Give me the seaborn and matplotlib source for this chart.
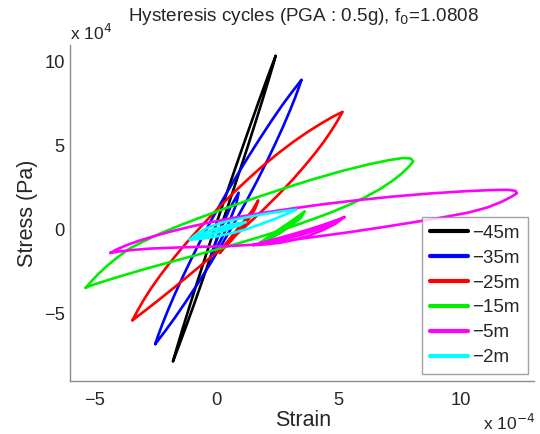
import matplotlib
matplotlib.use("Agg")
import matplotlib.pyplot as plt
import pandas as pd
import seaborn as sns

# Strain in units of 1e-4, stress in units of 1e4 Pa.
# Each depth: main hysteresis cycle plus smaller inner cycles.
depths = ["\u221245m", "\u221235m", "\u221225m", "\u221215m", "\u22125m", "\u22122m"]
colors = ["#000000", "#0000ff", "#ff0000", "#00ee00", "#ff00ff", "#00ffff"]

d45_strain = [-1.79, -1.62, -1.40, -1.12, -0.80, -0.45, -0.08, 0.30, 0.68, 1.05, 1.40, 1.72, 2.00, 2.24, 2.42,
              2.30, 2.12, 1.90, 1.62, 1.30, 0.95, 0.57, 0.18, -0.20, -0.57, -0.92, -1.24, -1.52, -1.72, -1.79]
d45_stress = [-7.84, -6.99, -5.92, -4.61, -3.14, -1.56, 0.07, 1.70, 3.31, 4.86, 6.31, 7.62, 8.74, 9.68, 10.36,
              9.75, 8.87, 7.83, 6.53, 5.07, 3.52, 1.87, 0.20, -1.42, -2.97, -4.42, -5.71, -6.81, -7.58, -7.84]

d35_strain = [-2.52, -2.40, -2.22, -2.00, -1.72, -1.40, -1.05, -0.65, -0.22, 0.25, 0.75, 1.25, 1.75, 2.25, 2.72, 3.12, 3.48,
              3.38, 3.22, 3.00, 2.72, 2.40, 2.04, 1.63, 1.18, 0.70, 0.20, -0.30, -0.80, -1.28, -1.72, -2.10, -2.35, -2.52]
d35_stress = [-6.82, -6.31, -5.61, -4.81, -3.86, -2.84, -1.78, -0.62, 0.56, 1.78, 3.03, 4.23, 5.38, 6.49, 7.48, 8.26, 8.93,
              8.51, 7.88, 7.08, 6.13, 5.11, 4.01, 2.83, 1.59, 0.34, -0.91, -2.12, -3.27, -4.33, -5.26, -6.02, -6.50, -6.82]
d35_inner_strain = [-0.30, -0.05, 0.25, 0.55, 0.90, 0.80, 0.55, 0.25, -0.05, -0.30]
d35_inner_stress = [-1.80, -0.80, 0.30, 1.30, 2.20, 1.50, 0.60, -0.40, -1.20, -1.80]

d25_strain = [-3.45, -3.25, -3.00, -2.70, -2.35, -1.95, -1.50, -1.00, -0.45, 0.15, 0.75, 1.36, 1.95, 2.55, 3.15, 3.75, 4.30, 4.75, 5.16,
              4.95, 4.70, 4.40, 4.05, 3.65, 3.13, 2.55, 1.90, 1.20, 0.45, -0.30, -1.05, -1.75, -2.35, -2.85, -3.20, -3.45]
d25_stress = [-5.40, -4.84, -4.21, -3.52, -2.80, -2.03, -1.23, -0.39, 0.49, 1.41, 2.28, 3.11, 3.87, 4.58, 5.24, 5.84, 6.34, 6.72, 7.02,
              6.47, 5.89, 5.25, 4.58, 3.87, 3.00, 2.11, 1.17, 0.22, -0.76, -1.71, -2.62, -3.46, -4.16, -4.73, -5.12, -5.40]
d25_inner_strain = [0.13, 0.40, 0.75, 1.10, 1.45, 1.70, 1.58, 1.30, 0.95, 0.60, 0.30, 0.13]
d25_inner_stress = [-1.39, -0.80, -0.15, 0.48, 1.12, 1.74, 1.25, 0.60, -0.05, -0.65, -1.10, -1.39]

d15_strain = [-5.37, -5.15, -4.85, -4.50, -4.10, -3.60, -3.00, -2.30, -1.50, -0.60, 0.40, 1.50, 2.70, 3.90, 5.10, 6.20, 7.10, 7.65, 7.95, 8.06,
              7.90, 7.60, 7.20, 6.70, 6.10, 5.46, 4.70, 3.90, 3.00, 2.00, 1.00, 0.00, -1.00, -2.00, -2.90, -3.70, -4.40, -4.95, -5.25, -5.37]
d15_stress = [-3.47, -3.10, -2.64, -2.17, -1.69, -1.15, -0.70, -0.22, 0.26, 0.76, 1.29, 1.85, 2.43, 2.98, 3.48, 3.88, 4.15, 4.27, 4.24, 4.06,
              3.78, 3.36, 2.90, 2.42, 1.94, 1.50, 1.03, 0.60, 0.14, -0.33, -0.77, -1.18, -1.58, -1.97, -2.33, -2.67, -2.98, -3.23, -3.38, -3.47]
d15_inner_strain = [1.77, 2.20, 2.70, 3.20, 3.61, 3.45, 3.10, 2.60, 2.10, 1.77]
d15_inner_stress = [-0.79, -0.35, 0.15, 0.62, 1.09, 0.70, 0.30, -0.20, -0.60, -0.79]
d15_inner2_strain = [1.90, 2.60, 3.30, 3.50, 3.00, 2.40, 1.90]
d15_inner2_stress = [-0.70, 0.00, 0.75, 0.90, 0.25, -0.35, -0.70]

d5_strain = [-4.36, -4.10, -3.70, -3.20, -2.60, -1.90, -1.10, -0.20, 0.80, 1.90, 3.10, 4.40, 5.80, 7.30, 8.80, 10.20, 11.30, 11.95, 12.25, 12.31,
             12.10, 11.70, 11.10, 10.30, 9.15, 7.90, 6.60, 5.20, 3.41, 2.20, 1.50, 0.50, -0.60, -1.70, -2.74, -3.50, -4.00, -4.36]
d5_stress = [-1.39, -1.18, -0.93, -0.67, -0.40, -0.12, 0.17, 0.45, 0.73, 1.00, 1.26, 1.52, 1.76, 1.98, 2.16, 2.29, 2.36, 2.37, 2.31, 2.17,
             1.97, 1.67, 1.32, 1.01, 0.70, 0.40, 0.10, -0.20, -0.55, -0.78, -0.90, -0.98, -1.02, -1.07, -1.13, -1.22, -1.30, -1.39]
d5_inner_strain = [1.49, 2.00, 2.60, 3.20, 3.80, 4.40, 4.90, 5.25, 4.90, 4.40, 3.80, 3.20, 2.60, 2.00, 1.49]
d5_inner_stress = [-0.92, -0.72, -0.48, -0.24, 0.02, 0.30, 0.56, 0.76, 0.38, 0.00, -0.35, -0.60, -0.78, -0.88, -0.92]
d5_inner2_strain = [1.70, 2.60, 3.50, 4.40, 4.90, 4.20, 3.40, 2.50, 1.70]
d5_inner2_stress = [-0.88, -0.62, -0.30, 0.12, 0.45, 0.10, -0.28, -0.62, -0.88]

d2_strain = [-1.10, -0.85, -0.55, -0.20, 0.30, 0.90, 1.60, 2.30, 2.90, 3.27,
             2.90, 2.40, 1.80, 1.20, 0.60, 0.00, -0.55, -1.10]
d2_stress = [-0.60, -0.30, -0.02, 0.22, 0.45, 0.64, 0.84, 1.01, 1.13, 1.19,
             0.95, 0.65, 0.32, 0.02, -0.22, -0.40, -0.53, -0.60]
d2_inner_strain = [-1.00, -0.60, -0.10, 0.50, 1.20, 0.70, 0.10, -0.50, -1.00]
d2_inner_stress = [-0.55, -0.25, 0.05, 0.28, 0.45, 0.15, -0.15, -0.42, -0.55]
d2_inner2_strain = [-0.90, -0.30, 0.40, 1.00, 0.40, -0.30, -0.90]
d2_inner2_stress = [-0.45, -0.10, 0.15, 0.30, 0.00, -0.30, -0.45]

cycles = {
    depths[0]: [(d45_strain, d45_stress)],
    depths[1]: [(d35_strain, d35_stress), (d35_inner_strain, d35_inner_stress)],
    depths[2]: [(d25_strain, d25_stress), (d25_inner_strain, d25_inner_stress)],
    depths[3]: [(d15_strain, d15_stress), (d15_inner_strain, d15_inner_stress),
                (d15_inner2_strain, d15_inner2_stress)],
    depths[4]: [(d5_strain, d5_stress), (d5_inner_strain, d5_inner_stress),
                (d5_inner2_strain, d5_inner2_stress)],
    depths[5]: [(d2_strain, d2_stress), (d2_inner_strain, d2_inner_stress),
                (d2_inner2_strain, d2_inner2_stress)],
}

rows = []
trace = 0
for depth in depths:
    for xs, ys in cycles[depth]:
        for order, (x, y) in enumerate(zip(xs, ys)):
            rows.append({"strain": x, "stress": y, "depth": depth, "trace": trace, "order": order})
        trace += 1
df = pd.DataFrame(rows)

sns.set_theme(style="white")
plt.rcParams["font.family"] = ["Liberation Sans", "DejaVu Sans"]
plt.rcParams["axes.unicode_minus"] = True

W, H = 540, 434
fig = plt.figure(figsize=(W / 100, H / 100), dpi=100)
ax = fig.add_axes([70.3 / W, 1 - 380.7 / H, 463.5 / W, 335.7 / H])

sns.lineplot(data=df, x="strain", y="stress", hue="depth", hue_order=depths,
             palette=dict(zip(depths, colors)), units="trace", estimator=None,
             sort=False, linewidth=1.9, solid_joinstyle="round", ax=ax)

ax.set_xlim(-6, 13)
ax.set_ylim(-9, 11)
ax.set_xticks([-5, 0, 5, 10])
ax.set_yticks([-5, 0, 5, 10])
ax.set_xticklabels(["\u22125", "0", "5", "10"])
ax.set_yticklabels(["\u22125", "0", "5", "10"])
ax.set_xlabel("")
ax.set_ylabel("")

spine_col = "#8c8c8c"
for side in ["top", "right"]:
    ax.spines[side].set_visible(False)
for side in ["left", "bottom"]:
    ax.spines[side].set_color(spine_col)
    ax.spines[side].set_linewidth(1.0)
ax.tick_params(axis="both", direction="in", length=4, width=0.8, color=spine_col,
               labelsize=13.2, labelcolor="#262626")
ax.tick_params(axis="x", pad=8)
ax.tick_params(axis="y", pad=4)

handles, labels = ax.get_legend_handles_labels()
for h in handles:
    h.set_linewidth(3.0)
leg = ax.legend(handles, labels, loc="upper right", bbox_to_anchor=(0.9875, 0.4876),
                fontsize=13.5, frameon=True, fancybox=False, handlelength=2.0,
                handletextpad=0.25, labelspacing=0.41, borderpad=0.42, borderaxespad=0)
leg.get_frame().set_edgecolor("#8c8c8c")
leg.get_frame().set_linewidth(1.0)
for t in leg.get_texts():
    t.set_color("#262626")

txt = "#262626"
fig.text(303 / W, 1 - 20.7 / H, "Hysteresis cycles (PGA : 0.5g), f$_0$=1.0808",
         ha="center", va="baseline", fontsize=13.6, color=txt)
fig.text(70.5 / W, 1 - 39.5 / H, "x 10$^{4}$", ha="left", va="baseline",
         fontsize=12.5, color=txt)
fig.text(483 / W, 1 - 430 / H, "x 10$^{\u22124}$", ha="left", va="baseline",
         fontsize=12.5, color=txt)
fig.text(303 / W, 1 - 426.5 / H, "Strain", ha="center", va="baseline",
         fontsize=15.5, color=txt)
fig.text(27 / W, 1 - 213.5 / H, "Stress (Pa)", ha="center", va="center",
         rotation=90, fontsize=15.5, color=txt)

fig.savefig("out.png", dpi=100)
